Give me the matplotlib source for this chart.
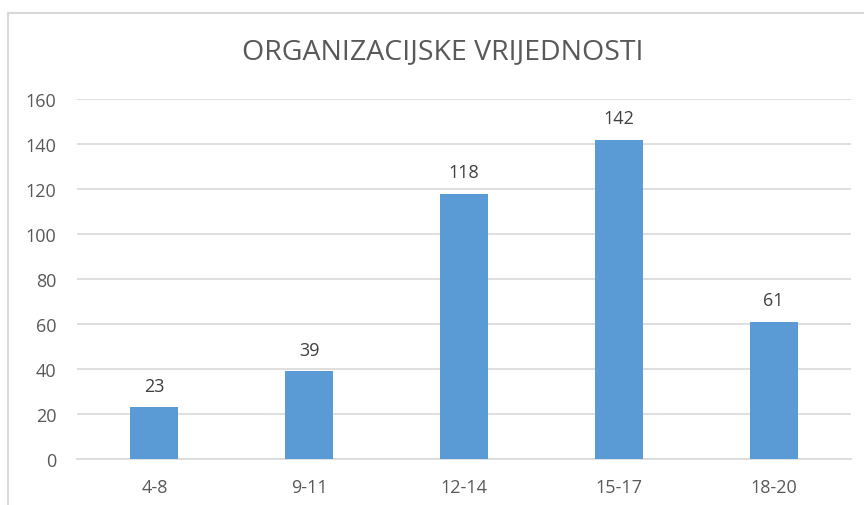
import matplotlib.pyplot as plt
from matplotlib.lines import Line2D

# podaci
categories = ['4-8', '9-11', '12-14', '15-17', '18-20']
values = [23, 39, 118, 142, 61]
y_ticks = [0, 20, 40, 60, 80, 100, 120, 140, 160]

plt.rcParams['font.family'] = ['Open Sans', 'DejaVu Sans']

fig = plt.figure(figsize=(8.64, 5.06), dpi=100)
ax = fig.add_axes([77 / 864, 1 - 460 / 506, 774 / 864, 360 / 506])

x = range(len(categories))
ax.bar(x, values, width=0.31, color='#5B9BD5', zorder=3)

for xi, v in zip(x, values):
    ax.annotate(str(v), (xi, v), xytext=(0, 9), textcoords='offset points',
                ha='center', va='bottom', fontsize=13, color='#404040')

ax.set_xlim(-0.5, len(categories) - 0.5)
ax.set_ylim(0, 160)
ax.set_yticks(y_ticks)
ax.set_xticks(list(x))
ax.set_xticklabels(categories)
ax.tick_params(length=0, labelsize=13, colors='#595959')
ax.tick_params(axis='y', pad=15)
ax.tick_params(axis='x', pad=14)
ax.grid(axis='y', color='#D9D9D9', linewidth=1.2, zorder=0)
for s in ['top', 'right', 'left']:
    ax.spines[s].set_visible(False)
ax.spines['bottom'].set_color('#D9D9D9')
ax.spines['bottom'].set_linewidth(1.2)

fig.text(443 / 864, 1 - 52 / 506, 'ORGANIZACIJSKE VRIJEDNOSTI', ha='center', va='center',
         fontsize=20.5, color='#595959')

# okvir grafikona
fig.add_artist(Line2D([8 / 864, 1], [1 - 14 / 506, 1 - 14 / 506], color='#D9D9D9', linewidth=1.5))
fig.add_artist(Line2D([8 / 864, 8 / 864], [0, 1 - 14 / 506], color='#D9D9D9', linewidth=1.5))

fig.savefig('out.png', dpi=100)
